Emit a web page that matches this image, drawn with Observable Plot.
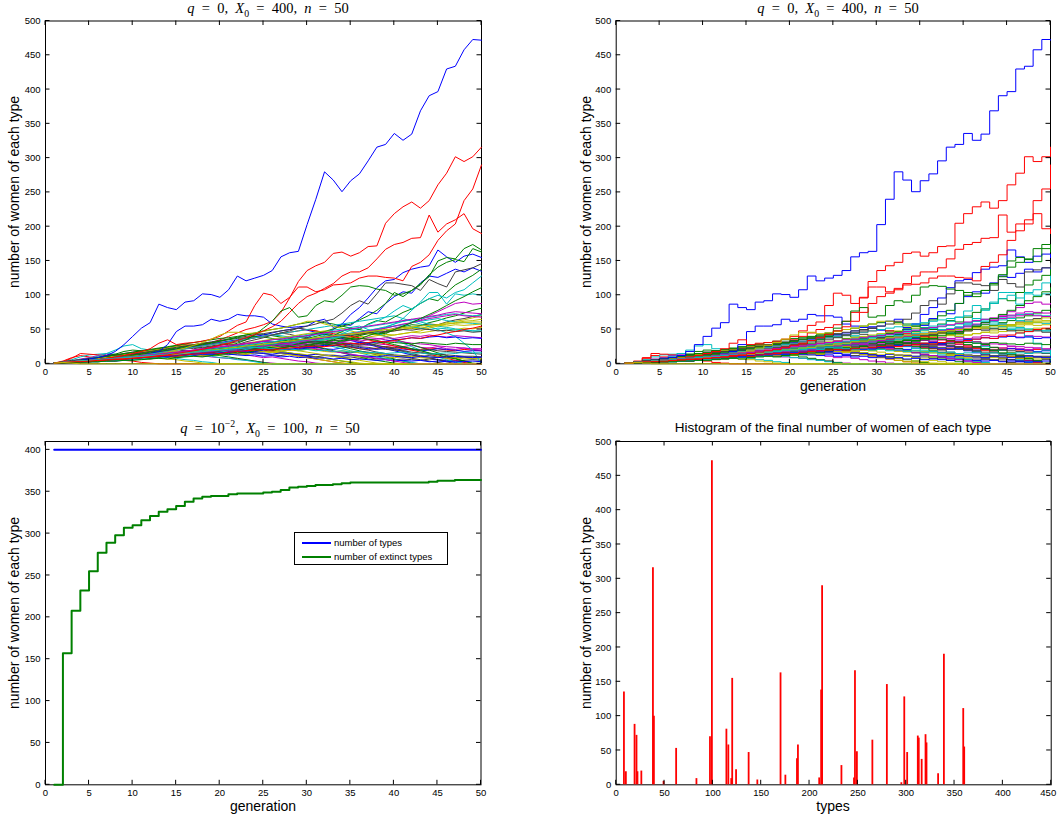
<!DOCTYPE html>
<html><head><meta charset="utf-8">
<script src="https://cdn.jsdelivr.net/npm/d3@7"></script>
<script src="https://cdn.jsdelivr.net/npm/@observablehq/plot@0.6"></script>
<style>
body{margin:0;background:#fff;}
#wrap{position:relative;width:1057px;height:822px;overflow:hidden;font-family:"Liberation Sans",Arial,Helvetica,sans-serif;color:#000;}
.panel{position:absolute;}
.mtitle{position:absolute;font-family:"Liberation Serif","DejaVu Serif",serif;font-size:14.5px;line-height:16px;white-space:nowrap;transform:translateX(-50%);}
.mtitle sub,.mtitle sup{font-size:68%;line-height:0;}
.stitle{position:absolute;font-size:13.5px;line-height:16px;white-space:nowrap;transform:translateX(-50%);}
.xlabel{position:absolute;font-size:14px;line-height:16px;transform:translateX(-50%);white-space:nowrap;}
.ylabel{position:absolute;font-size:14px;line-height:16px;white-space:nowrap;transform:translate(-50%,-50%) rotate(-90deg);}
.legend{position:absolute;border:1px solid #000;background:#fff;font-size:9.5px;}
.legend .sw{position:absolute;height:2px;}
.legend .tx{position:absolute;line-height:12px;white-space:nowrap;}
</style></head><body><div id="wrap"></div>
<script>
// ---------- data ----------
const generation = [1,2,3,4,5,6,7,8,9,10,11,12,13,14,15,16,17,18,19,20,21,22,23,24,25,26,27,28,29,30,31,32,33,34,35,36,37,38,39,40,41,42,43,44,45,46,47,48,49,50];
const genTicks = [0,5,10,15,20,25,30,35,40,45,50];
const countTicks = [0,50,100,150,200,250,300,350,400,450,500];
const extinctTicks = [0,50,100,150,200,250,300,350,400];
const typeTicks = [0,50,100,150,200,250,300,350,400,450];
const matlabColors = ["#0000ff","#008000","#ff0000","#00bfbf","#bf00bf","#bfbf00","#404040"];

// surviving types (count of women per generation 1..50)
const survivorTypes = [8,10,19,21,22,26,38,39,49,62,83,97,99,114,116,119,120,124,137,146,170,175,187,188,210,212,213,233,246,247,249,265,280,295,298,301,312,313,316,320,321,333,339,359,360];
const survivorCounts = [
 [1,1,2,2,3,3,4,4,5,6, 7,8,9,10,11,12,13,14,15,16, 18,20,19,23,26,25,30,33,31,38, 44,42,50,58,56,66,76,73,88,98, 105,103,118,128,126,132,138,134,140,135],
 [1,3,8,15,14,13,12,13,14,15, 16,15,14,16,18,17,19,20,18,17, 19,21,20,22,24,23,21,20,22,24, 23,25,27,26,24,22,21,23,25,24, 22,20,21,23,22,20,19,21,20,19],
 [1,2,2,3,4,5,5,6,7,8, 9,10,12,11,13,14,16,15,17,19, 20,22,21,24,26,25,28,30,29,32, 34,33,36,39,38,42,45,44,48,52, 55,60,64,70,76,82,88,90,87,88],
 [1,2,4,5,5,7,8,10,9,11, 13,14,16,15,17,20,19,22,24,23, 26,28,27,30,33,31,34,36,33,35, 38,40,37,41,44,42,46,49,47,50, 53,51,56,58,57,61,64,66,69,72],
 [1,2,3,3,4,5,6,6,7,8, 9,10,9,11,12,11,13,14,13,15, 16,15,17,18,17,19,20,22,21,23, 24,22,21,23,25,24,22,21,23,22, 20,21,19,20,22,21,20,18,19,19],
 [1,2,2,3,4,4,5,6,7,6, 8,9,10,11,10,12,13,12,14,15, 17,16,18,20,22,21,23,25,24,26, 28,27,29,31,30,28,27,29,28,26, 25,27,24,23,25,22,21,23,21,20],
 [1,2,3,4,5,6,8,9,11,12, 14,15,17,19,21,23,25,28,31,35, 40,45,50,53,57,62,75,96,120,136, 143,148,161,163,157,162,171,172,205,219, 229,236,227,238,261,278,302,295,302,316],
 [1,2,3,4,5,6,7,9,12,10, 9,11,10,13,15,14,17,19,18,21, 23,22,25,27,26,29,31,30,33,35, 37,36,39,42,41,45,48,47,53,58, 66,78,90,104,104,87,102,100,102,100],
 [1,1,2,3,3,4,5,4,6,7, 8,7,9,10,9,11,12,11,13,14, 13,15,14,16,15,13,12,14,13,11, 10,12,11,9,10,8,9,7,8,6, 7,6,5,7,6,5,4,5,6,5],
 [1,2,3,4,4,5,6,7,8,9, 10,12,11,13,15,14,16,18,17,20, 22,21,24,26,25,28,30,29,32,34, 33,35,37,36,38,40,39,41,43,42, 44,46,45,47,49,48,50,52,51,53],
 [1,2,3,3,4,5,5,6,7,8, 7,9,10,9,11,12,11,13,12,14, 15,13,14,16,15,17,16,14,15,13, 14,12,13,11,12,10,11,12,10,9, 10,11,9,8,10,9,8,9,10,9],
 [1,2,3,4,5,6,7,8,8,10, 12,11,13,14,16,15,17,19,18,20, 22,24,23,26,28,27,30,32,31,34, 36,35,38,40,39,42,44,43,46,48, 50,52,51,55,57,60,62,64,67,70],
 [1,2,3,5,7,9,12,18,28,40, 52,60,87,82,79,90,92,102,101,97, 108,128,121,125,129,136,156,162,164,203, 240,280,268,251,267,277,296,316,320,336, 326,335,369,391,397,430,434,458,473,472],
 [1,2,3,4,5,6,7,8,9,10, 11,13,12,14,16,15,17,19,18,20, 21,23,22,24,26,25,27,29,28,31, 33,32,35,38,37,41,44,43,47,50, 54,57,56,60,63,67,70,74,78,81],
 [1,2,3,3,4,6,7,8,10,9, 11,12,14,13,15,16,15,17,19,18, 20,22,21,23,25,24,27,29,28,31, 33,35,37,40,42,45,47,50,52,55, 57,60,62,64,66,63,61,60,59,58],
 [1,2,2,3,4,5,6,7,8,9, 10,11,12,11,13,14,16,15,17,19, 18,20,22,21,23,24,22,21,20,22, 21,19,18,17,16,18,17,15,14,13, 12,13,11,12,10,11,9,10,8,9],
 [1,1,2,3,3,4,5,6,8,10, 12,15,18,28,47,55,55,57,65,62, 65,72,70,70,68,58,55,53,54,55, 62,65,53,58,72,82,96,111,121,123, 133,138,141,143,166,156,148,157,160,155],
 [1,2,3,4,4,5,6,7,7,8, 9,10,11,12,12,13,14,15,16,17, 18,19,20,22,23,24,26,27,28,30, 32,31,33,35,34,36,38,37,35,33, 32,30,29,28,26,25,24,23,22,22],
 [1,2,3,4,5,5,6,7,8,9, 10,11,12,13,14,15,16,17,18,20, 21,22,23,24,26,27,28,30,31,33, 34,36,38,40,43,46,48,51,54,58, 62,65,61,58,55,53,51,49,48,47],
 [1,2,2,3,3,4,5,6,6,7, 8,9,10,9,11,12,11,13,14,13, 15,16,15,17,18,17,19,20,19,21, 20,18,17,19,18,16,15,14,13,12, 11,10,11,9,10,8,9,7,8,7],
 [1,2,2,3,4,5,6,7,8,9, 10,11,12,14,13,15,16,18,19,21, 22,24,23,26,28,31,33,36,38,41, 44,47,51,55,58,64,70,78,88,104, 98,107,115,130,141,148,152,149,168,163],
 [1,2,3,4,5,6,6,7,8,9, 10,12,11,13,14,15,14,16,17,18, 20,19,21,22,24,23,25,26,27,28, 30,29,31,30,28,27,29,26,25,23, 24,22,20,21,19,18,17,16,15,14],
 [1,2,3,3,4,5,6,7,8,9, 10,11,10,12,13,14,15,17,16,18, 19,20,22,21,23,25,24,26,28,27, 29,31,30,32,34,33,35,36,38,37, 39,41,40,42,40,39,41,40,39,38],
 [1,2,3,4,5,6,7,8,9,11, 12,13,14,16,17,18,20,21,23,24, 26,28,30,32,34,36,38,40,42,44, 46,48,47,45,43,44,46,48,50,49, 51,53,52,54,56,55,57,56,57,58],
 [1,2,3,4,5,6,7,8,9,10, 11,12,13,14,15,16,18,19,20,22, 23,25,24,26,28,27,29,31,30,32, 33,31,30,28,27,25,24,22,21,20, 19,17,16,15,14,13,12,11,11,10],
 [1,1,2,2,3,3,4,5,5,6, 7,8,9,10,11,12,13,15,16,18, 20,21,23,25,27,28,30,33,35,37, 40,43,41,47,52,50,58,63,61,68, 75,80,88,95,92,104,115,122,129,138],
 [1,2,3,4,5,6,8,10,12,15, 18,22,30,35,28,30,31,33,36,40, 48,56,61,85,103,100,88,97,112,112, 105,108,115,116,118,125,128,128,126,125, 121,142,148,159,180,194,204,238,255,290],
 [1,2,3,4,5,6,7,8,9,10, 11,12,13,14,15,14,16,17,18,19, 20,21,22,21,23,24,23,25,26,25, 27,28,27,29,30,29,31,30,32,31, 30,29,31,30,29,28,30,29,28,28],
 [1,2,3,4,5,6,6,7,8,9, 10,11,12,11,13,14,13,15,16,15, 17,18,17,16,15,14,16,15,13,12, 14,13,12,11,13,12,11,10,12,11, 10,9,11,10,9,10,11,10,9,10],
 [1,1,2,3,3,4,5,6,7,8, 9,10,11,12,14,15,17,19,21,23, 26,30,35,42,52,62,77,82,68,70, 85,92,90,100,112,114,113,109,107,100, 102,107,117,127,150,155,153,168,174,166],
 [1,2,3,4,4,5,6,7,8,9, 10,11,12,13,14,16,17,18,19,21, 22,23,25,26,28,29,31,32,34,35, 37,39,41,43,45,47,49,51,53,55, 57,54,52,50,52,51,49,50,48,48],
 [1,1,2,3,3,4,5,6,7,8, 10,12,14,17,20,23,27,31,36,42, 46,46,44,45,47,50,52,55,58,62, 62,58,55,52,48,45,44,42,40,42, 44,46,48,52,55,58,60,62,63,65],
 [1,1,2,2,3,4,4,5,6,7, 8,9,10,11,13,14,16,18,20,22, 25,28,32,35,38,42,45,48,52,55, 58,62,65,74,85,92,87,102,118,118, 116,114,107,123,117,112,134,137,140,146],
 [1,2,3,4,5,5,6,7,8,8, 9,10,11,10,12,13,12,14,13,15, 14,13,12,13,11,12,10,11,9,10, 8,9,7,8,6,7,6,5,6,4, 5,4,5,3,4,3,4,3,4,3],
 [1,1,2,2,3,3,4,5,5,6, 7,9,8,10,12,11,13,15,14,17, 19,18,21,24,23,27,29,28,32,35, 37,41,39,44,49,52,57,62,68,77, 85,80,88,95,100,96,104,108,118,128],
 [1,2,3,4,5,6,7,8,9,10, 11,12,14,15,16,18,19,20,22,23, 25,27,26,28,30,32,31,33,35,37, 36,38,40,42,41,43,45,47,46,48, 50,49,51,50,48,49,47,48,46,47],
 [1,2,3,4,5,6,7,8,9,10, 11,12,13,14,15,17,18,20,21,23, 24,26,27,29,31,32,34,36,38,40, 42,44,46,48,50,52,54,56,58,60, 62,64,66,68,70,72,73,71,70,71],
 [1,2,3,3,4,5,6,7,8,9, 10,11,12,13,14,15,16,17,18,19, 20,21,23,24,26,27,29,30,32,34, 36,38,40,42,44,46,48,50,52,55, 58,60,63,66,68,70,72,70,69,68],
 [1,2,2,3,4,5,6,6,7,8, 9,10,11,10,12,13,14,15,14,16, 17,18,19,18,20,21,22,21,23,24, 25,27,26,28,29,31,30,32,33,35, 36,38,37,39,40,38,39,37,38,37],
 [1,2,3,4,5,6,7,8,9,10, 12,13,14,16,17,19,20,22,23,25, 27,28,30,31,33,35,36,38,40,41, 43,45,47,49,51,53,55,57,59,61, 63,65,67,69,71,74,76,75,74,73],
 [1,2,3,4,5,5,6,7,8,9, 10,11,12,13,14,15,17,18,20,21, 23,24,26,27,29,30,32,33,35,36, 38,39,41,42,44,45,47,48,50,51, 53,54,55,56,57,58,59,60,61,61],
 [1,2,3,4,5,6,7,8,9,10, 11,12,13,14,15,16,17,18,19,20, 21,22,23,24,23,22,21,22,20,21, 19,20,18,19,17,18,16,17,15,16, 17,15,16,14,15,16,15,17,16,16],
 [1,1,2,3,3,4,5,6,7,8, 9,10,12,13,15,17,19,21,24,27, 30,34,38,43,48,54,62,75,88,98, 103,110,117,128,134,134,140,153,167,174, 177,183,184,217,192,204,210,219,197,190],
 [1,1,2,2,3,3,4,4,5,5, 6,7,8,7,9,10,11,10,12,14, 15,17,16,19,21,20,23,25,24,27, 29,31,30,34,37,36,41,45,44,50, 55,60,66,72,78,85,92,98,105,111],
 [1,2,3,3,4,5,6,7,7,8, 9,10,11,12,11,13,14,15,16,15, 17,18,19,20,21,20,22,23,24,25, 26,25,27,28,30,29,31,33,32,34, 36,38,37,40,42,45,47,50,52,55]
];

// types that died out (counts until extinction; 0 afterwards)
const extinctTypes = [3,4,5,6,12,16,24,25,30,34,35,44,53,64,72,90,91,107,130,143,200,226,258,306,398];
const extinctCounts = [
 [1,4,9,12,10,8,9,7,5,4,2,1,0],
 [1,3,6,10,13,14,15,14,12,11,10,12,11,9,8,6,5,3,2,0],
 [1,2,4,6,8,10,11,12,13,12,11,13,14,15,16,14,13,12,10,9,8,7,5,4,2,1,0],
 [1,2,3,5,7,9,12,14,13,12,10,11,9,7,6,4,3,1,0],
 [1,2,4,7,9,12,14,13,15,17,19,18,16,17,15,14,16,18,20,19,17,15,13,11,9,10,8,6,4,3,1,0],
 [1,2,3,5,7,9,12,14,18,20,19,18,20,22,21,19,17,15,13,12,10,8,6,4,2,0],
 [1,2,3,5,6,8,10,9,11,13,16,19,22,24,26,28,27,29,31,30,28,26,25,23,20,18,16,14,11,9,7,5,3,1,0],
 [1,2,4,6,8,11,15,20,26,28,22,20,18,19,17,15,14,12,11,9,8,6,5,3,1,0],
 [1,2,3,4,6,8,10,12,14,16,18,20,22,24,26,25,24,23,25,27,29,28,26,24,22,20,18,16,14,12,10,8,6,4,2,0],
 [1,2,3,4,5,7,9,11,13,15,17,19,21,23,25,27,28,30,31,32,30,28,27,25,23,21,18,16,14,12,10,8,6,4,3,1,0],
 [1,3,5,6,8,9,11,13,12,14,16,15,17,19,21,23,22,24,26,28,30,32,35,38,40,42,45,43,40,38,35,33,30,28,25,22,20,17,15,12,10,8,6,4,2,0],
 [1,2,3,5,7,9,11,13,15,17,19,21,23,25,27,29,31,33,35,37,38,40,42,44,43,41,39,37,35,33,31,29,27,25,22,19,16,13,10,7,4,1,0],
 [1,2,3,4,5,6,7,8,9,10,12,14,16,18,20,22,24,26,28,30,32,34,36,38,40,42,41,39,36,34,31,28,25,22,19,16,13,10,8,6,4,2,0],
 [1,2,3,4,5,6,7,8,9,11,13,15,17,19,21,23,25,27,29,31,33,35,37,40,42,45,48,50,52,49,46,43,40,37,34,31,28,25,22,19,16,13,10,8,6,4,2,0],
 [1,2,3,4,5,6,7,9,11,13,15,17,19,21,23,25,27,29,31,33,35,37,38,40,39,37,35,33,31,28,25,22,19,16,13,10,7,5,3,1,0],
 [1,2,3,4,6,7,9,10,12,11,13,15,14,16,18,17,19,21,20,22,24,23,21,20,18,17,15,13,11,9,7,5,3,1,0],
 [1,2,3,4,5,6,8,10,12,14,16,18,20,22,24,26,28,30,32,34,36,38,40,42,44,46,48,50,52,50,48,45,42,39,36,33,30,27,24,21,18,15,12,9,6,3,0],
 [1,2,3,4,5,6,7,8,10,12,14,16,18,20,22,24,26,28,30,33,36,39,42,45,48,50,52,55,58,60,62,60,58,55,52,50,47,44,40,36,32,28,24,20,16,12,8,4,0],
 [1,2,3,4,5,6,7,8,9,10,11,12,13,14,15,16,17,19,21,23,25,27,29,31,33,35,37,39,41,43,45,47,49,51,53,55,50,45,40,35,30,25,20,15,10,6,3,1,0],
 [1,2,3,4,5,6,7,8,9,10,12,14,16,18,20,22,24,26,28,30,32,34,36,38,40,42,44,46,48,50,48,46,44,42,40,38,35,32,29,26,23,20,17,14,11,8,5,2,0],
 [1,2,3,4,5,6,7,8,9,10,12,14,16,18,20,22,24,26,28,30,32,34,36,38,40,42,44,46,48,50,52,54,56,58,60,62,64,66,68,70,66,62,58,54,50,45,40,30,20,0],
 [1,2,3,3,4,5,6,7,8,9,10,11,12,13,14,15,16,17,18,19,20,21,22,23,24,26,28,27,29,31,30,32,34,33,35,37,36,34,31,28,25,22,19,16,13,10,7,4,1,0],
 [1,2,3,4,5,6,7,8,9,10,11,12,13,14,15,16,18,20,22,24,26,28,30,29,27,25,23,21,19,17,15,13,11,9,7,5,3,1,0],
 [1,2,3,4,5,6,7,8,9,10,11,12,13,14,16,18,20,22,24,26,25,27,29,31,33,32,30,28,26,24,22,20,18,16,14,12,10,8,6,4,2,0],
 [1,2,1,0]
];

// second simulation (q = 1e-2)
const numberOfTypes = [400,400,400,400,400,400,400,400,400,400,400,400,400,400,400,400,400,400,400,400,400,400,400,400,400,400,400,400,400,400,400,400,400,400,400,400,400,400,400,400,400,400,400,400,400,400,400,400,400,400];
const numberExtinct = [0,157,208,232,255,277,289,298,307,310,316,321,326,329,333,338,342,344,345,345,347,348,348,348,349,350,352,355,356,357,358,358,359,360,361,361,361,361,361,361,361,361,361,362,363,363,364,364,364,364];

// ---------- build tables ----------
const allSeries = [];
survivorTypes.forEach((t, k) => allSeries.push({type: t, counts: survivorCounts[k]}));
extinctTypes.forEach((t, k) => allSeries.push({type: t, counts: extinctCounts[k]}));
allSeries.sort((a, b) => a.type - b.type);
const lineRows = [];
for (const s of allSeries) {
  const col = matlabColors[(s.type - 1) % 7];
  generation.forEach((g, i) => lineRows.push({type: s.type, generation: g, count: i < s.counts.length ? s.counts[i] : 0, col}));
}
const histRows = survivorTypes.map((t, k) => ({type: t, count: survivorCounts[k][survivorCounts[k].length - 1]}));
const evoRows = [];
generation.forEach((g, i) => evoRows.push({series: "types", generation: g, value: numberOfTypes[i]}));
generation.forEach((g, i) => evoRows.push({series: "extinct", generation: g, value: numberExtinct[i]}));

// ---------- helpers ----------
const baseStyle = {fontFamily: "Liberation Sans, Arial, Helvetica, sans-serif", fontSize: "9.5px", color: "#000", background: "transparent", overflow: "visible", maxWidth: "none"};

function boxTicks(xt, yt, len) {
  return (index, scales, values, dims) => {
    const x0 = dims.marginLeft, x1 = dims.width - dims.marginRight;
    const y0 = dims.marginTop, y1 = dims.height - dims.marginBottom;
    const g = d3.create("svg:g").attr("stroke", "#000").attr("stroke-width", 1).attr("fill", "none");
    for (const t of xt) {
      const px = scales.x(t);
      g.append("line").attr("x1", px).attr("x2", px).attr("y1", y1).attr("y2", y1 - len);
      g.append("line").attr("x1", px).attr("x2", px).attr("y1", y0).attr("y2", y0 + len);
    }
    for (const t of yt) {
      const py = scales.y(t);
      g.append("line").attr("y1", py).attr("y2", py).attr("x1", x0).attr("x2", x0 + len);
      g.append("line").attr("y1", py).attr("y2", py).attr("x1", x1).attr("x2", x1 - len);
    }
    return g.node();
  };
}

function place(node, left, top) {
  const d = document.createElement("div");
  d.className = "panel"; d.style.left = left + "px"; d.style.top = top + "px";
  d.appendChild(node);
  document.getElementById("wrap").appendChild(d);
}
function addHTML(cls, html, left, top) {
  const d = document.createElement("div");
  d.className = cls; d.innerHTML = html;
  d.style.left = left + "px"; d.style.top = top + "px";
  document.getElementById("wrap").appendChild(d);
  return d;
}

function genPanel(curve, ml, mr) {
  return Plot.plot({
    width: 528, height: 411,
    marginLeft: ml, marginRight: mr, marginTop: 20.5, marginBottom: 47.7,
    x: {domain: [0, 50]}, y: {domain: [0, 500]},
    color: {type: "identity"},
    style: baseStyle,
    marks: [
      Plot.frame({stroke: "#000", strokeWidth: 1}),
      Plot.line(lineRows, {x: "generation", y: "count", z: "type", stroke: d => d.col, strokeWidth: 1, curve}),
      boxTicks(genTicks, countTicks, 4.5),
      Plot.axisX({ticks: genTicks, tickSize: 0, tickPadding: 4, label: null}),
      Plot.axisY({ticks: countTicks, tickSize: 0, tickPadding: 5, label: null})
    ]
  });
}

// ---------- top-left / top-right ----------
place(genPanel("linear", 45, 47), 0, 0);
place(genPanel("step-after", 87.7, 6), 528, 0);

const mathTitle = '<i>q</i>&nbsp; = &nbsp;0, &nbsp;<i>X</i><sub>0</sub>&nbsp; = &nbsp;400, &nbsp;<i>n</i>&nbsp; = &nbsp;50';
addHTML("mtitle", mathTitle, 268, 0);
addHTML("mtitle", mathTitle, 838, 0);
addHTML("xlabel", "generation", 263, 378);
addHTML("xlabel", "generation", 833, 378);
addHTML("ylabel", "number of women of each type", 14, 192);
addHTML("ylabel", "number of women of each type", 586, 192);

// ---------- bottom-left ----------
const bl = Plot.plot({
  width: 528, height: 411,
  marginLeft: 45, marginRight: 47.5, marginTop: 30, marginBottom: 37.7,
  x: {domain: [0, 50]}, y: {domain: [0, 410]},
  style: baseStyle,
  marks: [
    Plot.frame({stroke: "#000", strokeWidth: 1}),
    Plot.line(evoRows, {filter: d => d.series === "types", x: "generation", y: "value", stroke: "#0000ff", strokeWidth: 2, curve: "step-after"}),
    Plot.line(evoRows, {filter: d => d.series === "extinct", x: "generation", y: "value", stroke: "#008000", strokeWidth: 2, curve: "step-after"}),
    boxTicks(genTicks, extinctTicks, 4.5),
    Plot.axisX({ticks: genTicks, tickSize: 0, tickPadding: 4, label: null}),
    Plot.axisY({ticks: extinctTicks, tickSize: 0, tickPadding: 5, label: null})
  ]
});
place(bl, 0, 411);
addHTML("mtitle", '<i>q</i>&nbsp; = &nbsp;10<sup>&minus;2</sup>, &nbsp;<i>X</i><sub>0</sub>&nbsp; = &nbsp;100, &nbsp;<i>n</i>&nbsp; = &nbsp;50', 270, 420);
addHTML("xlabel", "generation", 263, 798);
addHTML("ylabel", "number of women of each type", 14, 613);
const lg = addHTML("legend", "", 294, 532);
lg.style.width = "152px"; lg.style.height = "31px";
lg.innerHTML = '<div class="sw" style="left:7px;top:9px;width:29px;background:#0000ff"></div><div class="tx" style="left:39px;top:4px">number of types</div>' +
               '<div class="sw" style="left:7px;top:23px;width:29px;background:#008000"></div><div class="tx" style="left:39px;top:18px">number of extinct types</div>';

// ---------- bottom-right ----------
const typeTicksShown = typeTicks.slice(0, typeTicks.length - 1);
const lastTypeTick = typeTicks.slice(typeTicks.length - 1);
const br = Plot.plot({
  width: 529, height: 411,
  marginLeft: 87.7, marginRight: 6.3, marginTop: 30, marginBottom: 37.7,
  x: {domain: [0, 450]}, y: {domain: [0, 500]},
  style: baseStyle,
  marks: [
    Plot.frame({stroke: "#000", strokeWidth: 1}),
    Plot.ruleX(histRows, {x: "type", y1: 0, y2: "count", stroke: "#ff0000", strokeWidth: 1.8}),
    boxTicks(typeTicks, countTicks, 4.5),
    Plot.axisX({ticks: typeTicksShown, tickSize: 0, tickPadding: 4, label: null}),
    Plot.text(lastTypeTick, {x: d => d, frameAnchor: "bottom", lineAnchor: "top", textAnchor: "end", dx: 5, dy: 4}),
    Plot.axisY({ticks: countTicks, tickSize: 0, tickPadding: 5, label: null})
  ]
});
place(br, 528, 411);
addHTML("stitle", "Histogram of the final number of women of each type", 833, 420);
addHTML("xlabel", "types", 833, 798);
addHTML("ylabel", "number of women of each type", 586, 613);
</script></body></html>
